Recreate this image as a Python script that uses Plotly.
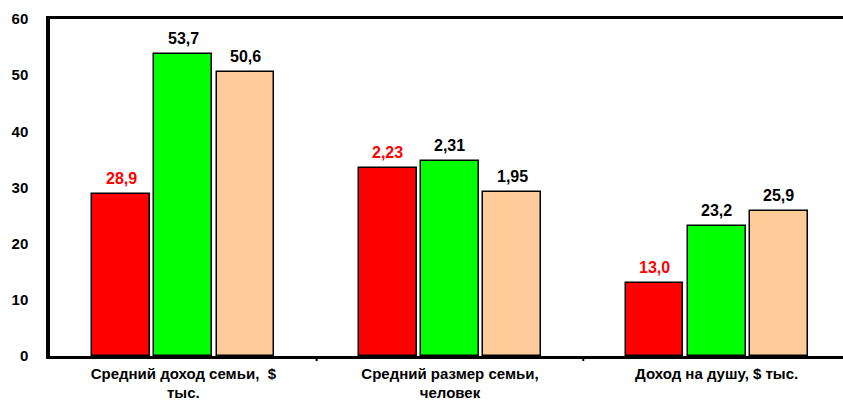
import plotly.graph_objects as go

categories = ["Средний доход семьи,  $<br>тыс.", "Средний размер семьи,<br>человек", "Доход на душу, $ тыс."]
series_red = [28.9, 33.45, 13.0]
series_green = [53.7, 34.65, 23.2]
series_peach = [50.6, 29.25, 25.9]
labels_red = ["28,9", "2,23", "13,0"]
labels_green = ["53,7", "2,31", "23,2"]
labels_peach = ["50,6", "1,95", "25,9"]
y_ticks = [0, 10, 20, 30, 40, 50, 60]

colors = ["#ff0000", "#00ff00", "#ffcc99"]
label_colors = ["#ff0000", "#000000", "#000000"]
offsets = [-0.233, 0.0, 0.233]
font = "Liberation Sans, Arial, sans-serif"

fig = go.Figure()
xs = list(range(len(categories)))
all_series = [series_red, series_green, series_peach]
all_labels = [labels_red, labels_green, labels_peach]
for s, lab, col, lc, off in zip(all_series, all_labels, colors, label_colors, offsets):
    fig.add_trace(go.Bar(
        x=[x + off for x in xs], y=s, width=0.217,
        marker=dict(color=col, line=dict(color="black", width=1.5)),
        showlegend=False, hoverinfo="skip",
    ))
    for x, v, t in zip(xs, s, lab):
        fig.add_annotation(x=x + off, y=v, text="<b>%s</b>" % t, showarrow=False,
                           yanchor="bottom", yshift=5,
                           font=dict(family=font, size=16, color=lc))

fig.update_layout(
    width=843, height=402,
    margin=dict(l=50, r=0, t=19, b=46),
    paper_bgcolor="white", plot_bgcolor="white",
    bargap=0, barmode="overlay",
    font=dict(family=font, size=15, color="black"),
)
fig.update_xaxes(
    range=[-0.5, 2.474], tickmode="array", tickvals=xs,
    ticktext=["<b>%s</b>" % c for c in categories],
    showline=True, linecolor="black", linewidth=2.5, mirror=True,
    showgrid=False, zeroline=False, ticks="", tickfont=dict(size=15),
    ticklabelstandoff=2,
)
for b in [0.5, 1.5]:
    fig.add_shape(type="line", xref="x", yref="paper", x0=b, x1=b, y0=0, y1=-0.015,
                  line=dict(color="black", width=2))
fig.update_yaxes(
    range=[0, 60], tickmode="array", tickvals=y_ticks,
    ticktext=["<b>%d</b>" % v for v in y_ticks],
    showline=True, linecolor="black", linewidth=3.5, mirror=False,
    showgrid=False, zeroline=False, ticks="", ticklabelstandoff=15,
    tickfont=dict(size=15),
)

fig.write_html("out.html")
